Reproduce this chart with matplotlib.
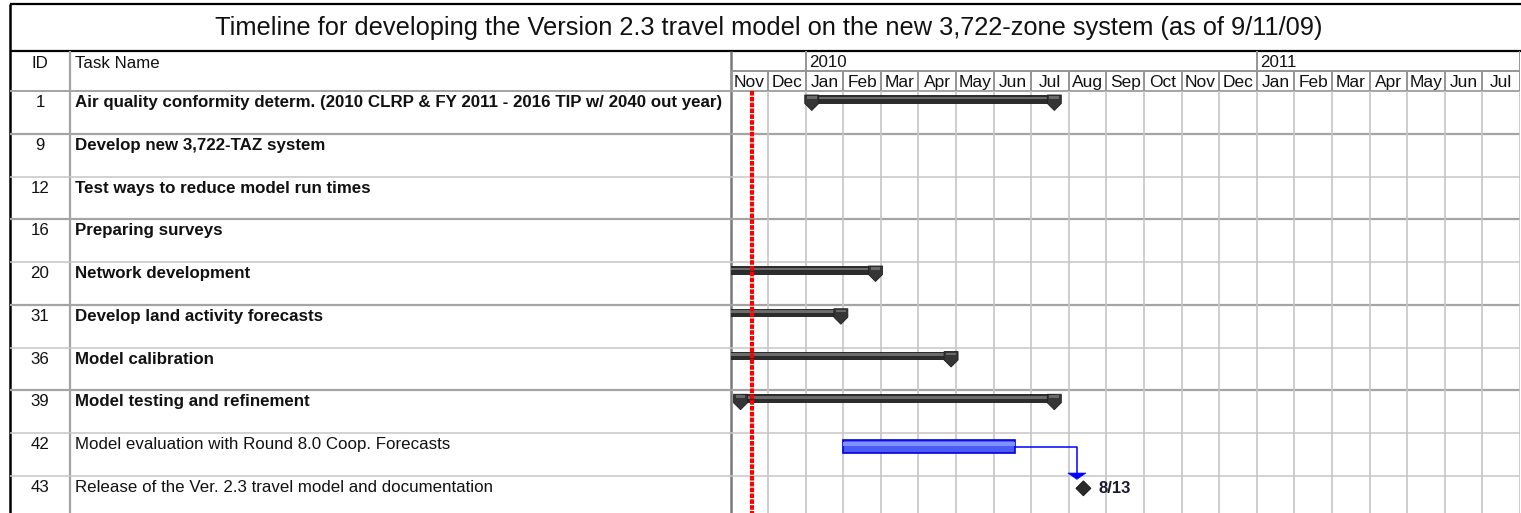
import matplotlib
matplotlib.use("Agg")
import matplotlib.pyplot as plt
from matplotlib.patches import Polygon, Rectangle
import pandas as pd
import numpy as np

plt.rcParams['font.family'] = ['Liberation Sans', 'DejaVu Sans']

# ---------------- data ----------------
title = "Timeline for developing the Version 2.3 travel model on the new 3,722-zone system (as of 9/11/09)"
task_ids = [1, 9, 12, 16, 20, 31, 36, 39, 42, 43]
task_names = [
    "Air quality conformity determ. (2010 CLRP & FY 2011 - 2016 TIP w/ 2040 out year)",
    "Develop new 3,722-TAZ system",
    "Test ways to reduce model run times",
    "Preparing surveys",
    "Network development",
    "Develop land activity forecasts",
    "Model calibration",
    "Model testing and refinement",
    "Model evaluation with Round 8.0 Coop. Forecasts",
    "Release of the Ver. 2.3 travel model and documentation",
]
task_kinds = ["summary", "summary", "summary", "summary", "summary",
              "summary", "summary", "summary", "task", "milestone"]
task_starts = ["2010-01-06", None, None, None, "2009-08-01", "2009-08-01",
               "2009-08-01", "2009-11-09", "2010-02-01", "2010-08-13"]
task_ends = ["2010-07-20", None, None, None, "2010-02-25", "2010-01-30",
             "2010-04-27", "2010-07-20", "2010-06-18", "2010-08-13"]
milestone_labels = {43: "8/13"}
links = [(42, 43)]
status_date = "2009-11-18"
timescale_start = "2009-11-01"
n_months = 21

# ---------------- layout (pixels) ----------------
W, H = 1521, 513
fig = plt.figure(figsize=(W / 100, H / 100), dpi=100)

def add_px_axes(x0, y0, x1, y1, **kw):
    ax = fig.add_axes([x0 / W, 1 - y1 / H, (x1 - x0) / W, (y1 - y0) / H], **kw)
    ax.set_axis_off()
    return ax

X_LEFT, X_ID, X_CHART, X_RIGHT = 10, 70, 730.5, 1520
Y_TOP, Y_HEAD, Y_TIER, Y_ROWS = 4, 51, 70, 91
ROW_H = 42.75
month_px = (X_RIGHT - X_CHART) / n_months

months = pd.date_range(timescale_start, periods=n_months, freq="MS")
t0 = pd.Timestamp(timescale_start)

def date_to_x(d):
    d = pd.Timestamp(d)
    mi = (d.year - t0.year) * 12 + (d.month - t0.month)
    return mi + (d.day - 1) / d.days_in_month

px2m = 1 / month_px
px2r = 1 / ROW_H

TXT = "#111111"
FS = 12.2

# background axes in pixel coordinates for frame
bg = add_px_axes(0, 0, W, H)
bg.set_xlim(0, W)
bg.set_ylim(H, 0)

GRID_L = "#c6c6c6"
GRID_D = "#a4a4a4"
HEAD_L = "#959595"

# title box
bg.plot([X_LEFT, W], [Y_TOP, Y_TOP], color="black", lw=1.6, solid_capstyle="butt")
bg.plot([X_LEFT, W], [Y_HEAD, Y_HEAD], color="black", lw=1.6, solid_capstyle="butt")
bg.plot([X_LEFT, X_LEFT], [Y_TOP, H], color="black", lw=1.8, solid_capstyle="butt")
bg.text(769, 28, title, ha="center", va="center", fontsize=18.3, color=TXT)

# header table part
bg.plot([X_ID, X_ID], [Y_HEAD, H], color=GRID_D, lw=1.6, solid_capstyle="butt")
bg.plot([X_CHART, X_CHART], [Y_HEAD, H], color="#7a7a7a", lw=1.8, solid_capstyle="butt")
bg.plot([X_LEFT, X_RIGHT], [Y_ROWS, Y_ROWS], color=GRID_D, lw=1.4, solid_capstyle="butt")
bg.text((X_LEFT + X_ID) / 2, 63, "ID", ha="center", va="center", fontsize=FS, color=TXT)
bg.text(X_ID + 5, 63, "Task Name", ha="left", va="center", fontsize=FS, color=TXT)

# ---------------- timescale header ----------------
hd = add_px_axes(X_CHART, Y_HEAD, X_RIGHT, Y_ROWS)
hd.set_xlim(0, n_months)
hd.set_ylim(2, 0)
hd.plot([0, n_months], [1, 1], color=HEAD_L, lw=1.4, solid_capstyle="butt")
for i, m in enumerate(months):
    hd.plot([i, i], [1, 2], color=HEAD_L, lw=1.4, solid_capstyle="butt")
    hd.text(i + 0.5, 1.56, m.strftime("%b"), ha="center", va="center",
            fontsize=12.5, color=TXT)
    if m.month == 1:
        hd.plot([i, i], [0, 1], color=HEAD_L, lw=1.4, solid_capstyle="butt")
        hd.text(i + 0.08, 0.58, str(m.year), ha="left", va="center",
                fontsize=FS, color=TXT)
hd.plot([n_months, n_months], [0, 2], color=HEAD_L, lw=1.4, solid_capstyle="butt")

# ---------------- table rows ----------------
n_vis = (H - Y_ROWS) / ROW_H
tb = add_px_axes(X_LEFT, Y_ROWS, X_CHART, H)
tb.set_xlim(X_LEFT, X_CHART)
tb.set_ylim(n_vis, 0)

ch = add_px_axes(X_CHART, Y_ROWS, X_RIGHT, H)
ch.set_xlim(0, n_months)
ch.set_ylim(n_vis, 0)

for k in range(1, len(task_ids) + 1):
    thick = k in (1, 3, 5, 7)
    col = GRID_D if thick else GRID_L
    lw = 1.6 if thick else 1.1
    tb.plot([X_LEFT, X_CHART], [k, k], color=col, lw=lw, solid_capstyle="butt")
    ch.plot([0, n_months], [k, k], color=col, lw=lw, solid_capstyle="butt", zorder=1)

for i in range(1, n_months + 1):
    ch.plot([i, i], [0, n_vis], color=GRID_L, lw=1.2, zorder=1)

for r, (tid, name, kind) in enumerate(zip(task_ids, task_names, task_kinds)):
    weight = "bold" if kind == "summary" else "normal"
    tb.text((X_LEFT + X_ID) / 2, r + 0.27, str(tid), ha="center", va="center",
            fontsize=FS, color=TXT)
    tb.text(X_ID + 5, r + 0.27, name, ha="left", va="center", fontsize=FS,
            fontweight=weight, color=TXT)

# ---------------- bars ----------------
def summary_cap(xc, r):
    hw = 7 * px2m
    top, mid, tip = r + 4 * px2r, r + 12.5 * px2r, r + 19.5 * px2r
    ch.add_patch(Polygon([(xc - hw, top), (xc + hw, top), (xc + hw, mid), (xc, tip), (xc - hw, mid)],
                         closed=True, fc="#353535", ec="#1e1e1e", lw=0.6, zorder=4))
    ch.add_patch(Polygon([(xc - hw * 0.7, top + 1.2 * px2r), (xc + hw * 0.7, top + 1.2 * px2r),
                          (xc + hw * 0.7, top + 3.5 * px2r), (xc - hw * 0.7, top + 3.5 * px2r)],
                         closed=True, fc="#6a6a6a", ec="none", zorder=5))

x_by_id = {}
for r, (tid, kind, s, e) in enumerate(zip(task_ids, task_kinds, task_starts, task_ends)):
    if s is None:
        continue
    xs, xe = date_to_x(s), date_to_x(e)
    x_by_id[tid] = (xs, xe, r)
    if kind == "summary":
        top, bot = r + 4 * px2r, r + 11.5 * px2r
        ch.add_patch(Rectangle((xs, top), xe - xs, bot - top, fc="#2c2c2c", ec="#1a1a1a",
                               lw=0.6, zorder=3, clip_on=True))
        ch.add_patch(Rectangle((xs, top + 1.5 * px2r), xe - xs, 2.8 * px2r, fc="#6c6c6c",
                               ec="none", zorder=3.5, clip_on=True))
        for xc in (xs, xe):
            if 0 <= xc <= n_months:
                summary_cap(xc, r)
    elif kind == "task":
        top, bot = r + 7 * px2r, r + 20 * px2r
        ch.add_patch(Rectangle((xs, top), xe - xs, bot - top, fc="#4a5cf4", ec="#0000e0",
                               lw=1.2, zorder=3))
        ch.add_patch(Rectangle((xs, top + 2.5 * px2r), xe - xs, 3.5 * px2r, fc="#8390ff",
                               ec="none", zorder=3.5))
    elif kind == "milestone":
        yc = r + 12.6 * px2r
        hw, hh = 7.5 * px2m, 7.5 * px2r
        ch.add_patch(Polygon([(xs, yc - hh), (xs + hw, yc), (xs, yc + hh), (xs - hw, yc)],
                             closed=True, fc="#2a2a2a", ec="#111111", lw=0.6, zorder=4))
        if tid in milestone_labels:
            ch.text(xs + 15 * px2m, yc, milestone_labels[tid], ha="left", va="center",
                    fontsize=12, fontweight="bold", color="#1a1a30", zorder=6)

# links (finish-to-start)
for a, b in links:
    xs_a, xe_a, ra = x_by_id[a]
    xs_b, xe_b, rb = x_by_id[b]
    yl = ra + 13.5 * px2r
    xd = xs_b - 6.5 * px2m
    yarrow = rb - 2.7 * px2r
    ch.plot([xe_a, xd, xd], [yl, yl, yarrow], color="#0000ff", lw=1.1, zorder=5)
    ch.add_patch(Polygon([(xd - 9 * px2m, yarrow), (xd + 9 * px2m, yarrow),
                          (xd, rb + 3.6 * px2r)], closed=True, fc="#0000ff", ec="#0000ff",
                         lw=0.5, zorder=5))

# status date line
xsd = date_to_x(status_date)
ch.plot([xsd, xsd], [0, n_vis], color="#ff0000", lw=3.0, linestyle=(0, (1.1, 0.3)),
        zorder=7, solid_capstyle="butt", dash_capstyle="butt")

fig.savefig("out.png", dpi=100)
